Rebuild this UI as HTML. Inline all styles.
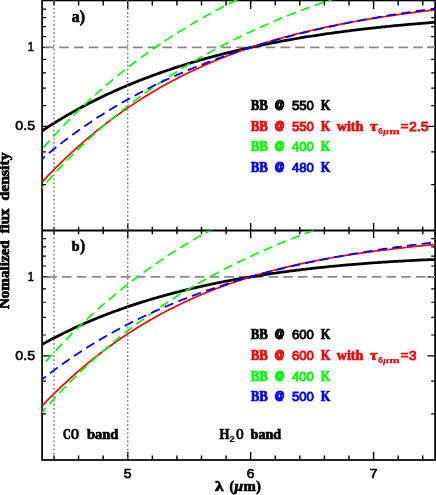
<!DOCTYPE html>
<html><head><meta charset="utf-8"><title>BB</title>
<style>html,body{margin:0;padding:0;background:#fff;overflow:hidden}svg{display:block;will-change:transform;font-family:"Liberation Serif",serif}</style></head>
<body>
<svg width="436" height="495" viewBox="0 0 436 495">
<defs><clipPath id="ca"><rect x="42.10" y="-0.05" width="393.00" height="230.55"/></clipPath><clipPath id="cb"><rect x="42.10" y="230.50" width="393.00" height="229.50"/></clipPath></defs>
<rect width="436" height="495" fill="#fff"/>
<g stroke="#000" fill="none">
<rect x="42.1" y="0.44999999999999996" width="393.0" height="459.55" stroke-width="1.7"/>
<line x1="42.1" x2="435.1" y1="230.5" y2="230.5" stroke-width="1.8"/>
<path d="M53.99,0.44999999999999996 v5.0 M53.99,226.85 v7.3 M53.99,460.0 v-4.4 M78.58,0.44999999999999996 v5.0 M78.58,226.85 v7.3 M78.58,460.0 v-4.4 M103.16,0.44999999999999996 v5.0 M103.16,226.85 v7.3 M103.16,460.0 v-4.4 M127.74,0.44999999999999996 v8.5 M127.74,223.00 v15.0 M127.74,460.0 v-7.9 M152.33,0.44999999999999996 v5.0 M152.33,226.85 v7.3 M152.33,460.0 v-4.4 M176.91,0.44999999999999996 v5.0 M176.91,226.85 v7.3 M176.91,460.0 v-4.4 M201.50,0.44999999999999996 v5.0 M201.50,226.85 v7.3 M201.50,460.0 v-4.4 M226.08,0.44999999999999996 v5.0 M226.08,226.85 v7.3 M226.08,460.0 v-4.4 M250.66,0.44999999999999996 v8.5 M250.66,223.00 v15.0 M250.66,460.0 v-7.9 M275.25,0.44999999999999996 v5.0 M275.25,226.85 v7.3 M275.25,460.0 v-4.4 M299.83,0.44999999999999996 v5.0 M299.83,226.85 v7.3 M299.83,460.0 v-4.4 M324.42,0.44999999999999996 v5.0 M324.42,226.85 v7.3 M324.42,460.0 v-4.4 M349.00,0.44999999999999996 v5.0 M349.00,226.85 v7.3 M349.00,460.0 v-4.4 M373.58,0.44999999999999996 v8.5 M373.58,223.00 v15.0 M373.58,460.0 v-7.9 M398.17,0.44999999999999996 v5.0 M398.17,226.85 v7.3 M398.17,460.0 v-4.4 M422.75,0.44999999999999996 v5.0 M422.75,226.85 v7.3 M422.75,460.0 v-4.4" stroke-width="1.4"/>
<path d="M42.1,184.55 h3.9 M435.1,184.55 h-3.9 M42.1,151.79 h3.9 M435.1,151.79 h-3.9 M42.1,126.38 h7.6 M435.1,126.38 h-7.6 M42.1,105.62 h3.9 M435.1,105.62 h-3.9 M42.1,88.07 h3.9 M435.1,88.07 h-3.9 M42.1,72.86 h3.9 M435.1,72.86 h-3.9 M42.1,59.45 h3.9 M435.1,59.45 h-3.9 M42.1,47.45 h7.6 M435.1,47.45 h-7.6 M42.1,36.60 h3.9 M435.1,36.60 h-3.9 M42.1,26.69 h3.9 M435.1,26.69 h-3.9 M42.1,17.57 h3.9 M435.1,17.57 h-3.9 M42.1,9.14 h3.9 M435.1,9.14 h-3.9 M42.1,413.95 h3.9 M435.1,413.95 h-3.9 M42.1,381.19 h3.9 M435.1,381.19 h-3.9 M42.1,355.78 h7.6 M435.1,355.78 h-7.6 M42.1,335.02 h3.9 M435.1,335.02 h-3.9 M42.1,317.47 h3.9 M435.1,317.47 h-3.9 M42.1,302.26 h3.9 M435.1,302.26 h-3.9 M42.1,288.85 h3.9 M435.1,288.85 h-3.9 M42.1,276.85 h7.6 M435.1,276.85 h-7.6 M42.1,266.00 h3.9 M435.1,266.00 h-3.9 M42.1,256.09 h3.9 M435.1,256.09 h-3.9 M42.1,246.97 h3.9 M435.1,246.97 h-3.9 M42.1,238.54 h3.9 M435.1,238.54 h-3.9" stroke-width="1.2"/>
</g>
<line x1="44.45" x2="435.1" y1="47.45" y2="47.45" stroke="#8a8a8a" stroke-width="1.8" stroke-dasharray="9.65 5.1"/>
<line x1="47.25" x2="435.1" y1="276.85" y2="276.85" stroke="#8a8a8a" stroke-width="1.8" stroke-dasharray="9.65 5.1"/>
<g clip-path="url(#ca)" fill="none">
<path d="M41.70,131.13 L43.23,130.11 L44.76,129.11 L46.28,128.11 L47.81,127.12 L49.34,126.14 L50.87,125.16 L52.40,124.20 L53.93,123.24 L55.45,122.29 L56.98,121.35 L58.51,120.42 L60.04,119.49 L61.57,118.57 L63.09,117.66 L64.62,116.76 L66.15,115.87 L67.68,114.98 L69.21,114.10 L70.74,113.23 L72.26,112.36 L73.79,111.50 L75.32,110.65 L76.85,109.81 L78.38,108.97 L79.90,108.14 L81.43,107.32 L82.96,106.50 L84.49,105.69 L86.02,104.89 L87.55,104.09 L89.07,103.30 L90.60,102.51 L92.13,101.74 L93.66,100.97 L95.19,100.20 L96.72,99.44 L98.24,98.69 L99.77,97.95 L101.30,97.21 L102.83,96.47 L104.36,95.74 L105.88,95.02 L107.41,94.31 L108.94,93.60 L110.47,92.89 L112.00,92.19 L113.53,91.50 L115.05,90.81 L116.58,90.13 L118.11,89.45 L119.64,88.78 L121.17,88.12 L122.69,87.46 L124.22,86.80 L125.75,86.15 L127.28,85.51 L128.81,84.87 L130.34,84.24 L131.86,83.61 L133.39,82.99 L134.92,82.37 L136.45,81.75 L137.98,81.15 L139.50,80.54 L141.03,79.94 L142.56,79.35 L144.09,78.76 L145.62,78.17 L147.15,77.60 L148.67,77.02 L150.20,76.45 L151.73,75.88 L153.26,75.32 L154.79,74.77 L156.31,74.21 L157.84,73.66 L159.37,73.12 L160.90,72.58 L162.43,72.05 L163.96,71.52 L165.48,70.99 L167.01,70.47 L168.54,69.95 L170.07,69.44 L171.60,68.93 L173.12,68.42 L174.65,67.92 L176.18,67.42 L177.71,66.93 L179.24,66.44 L180.77,65.95 L182.29,65.47 L183.82,64.99 L185.35,64.52 L186.88,64.05 L188.41,63.58 L189.93,63.12 L191.46,62.66 L192.99,62.21 L194.52,61.75 L196.05,61.31 L197.58,60.86 L199.10,60.42 L200.63,59.98 L202.16,59.55 L203.69,59.12 L205.22,58.69 L206.75,58.27 L208.27,57.85 L209.80,57.43 L211.33,57.02 L212.86,56.61 L214.39,56.20 L215.91,55.80 L217.44,55.40 L218.97,55.00 L220.50,54.61 L222.03,54.22 L223.56,53.83 L225.08,53.44 L226.61,53.06 L228.14,52.68 L229.67,52.31 L231.20,51.94 L232.72,51.57 L234.25,51.20 L235.78,50.84 L237.31,50.48 L238.84,50.12 L240.37,49.77 L241.89,49.41 L243.42,49.06 L244.95,48.72 L246.48,48.38 L248.01,48.04 L249.53,47.70 L251.06,47.36 L252.59,47.03 L254.12,46.70 L255.65,46.37 L257.18,46.05 L258.70,45.73 L260.23,45.41 L261.76,45.09 L263.29,44.78 L264.82,44.47 L266.34,44.16 L267.87,43.86 L269.40,43.55 L270.93,43.25 L272.46,42.95 L273.99,42.66 L275.51,42.36 L277.04,42.07 L278.57,41.78 L280.10,41.50 L281.63,41.21 L283.15,40.93 L284.68,40.65 L286.21,40.37 L287.74,40.10 L289.27,39.83 L290.80,39.56 L292.32,39.29 L293.85,39.02 L295.38,38.76 L296.91,38.50 L298.44,38.24 L299.96,37.98 L301.49,37.73 L303.02,37.48 L304.55,37.23 L306.08,36.98 L307.61,36.73 L309.13,36.49 L310.66,36.24 L312.19,36.00 L313.72,35.77 L315.25,35.53 L316.78,35.30 L318.30,35.06 L319.83,34.83 L321.36,34.61 L322.89,34.38 L324.42,34.16 L325.94,33.93 L327.47,33.71 L329.00,33.50 L330.53,33.28 L332.06,33.06 L333.59,32.85 L335.11,32.64 L336.64,32.43 L338.17,32.22 L339.70,32.02 L341.23,31.82 L342.75,31.61 L344.28,31.41 L345.81,31.21 L347.34,31.02 L348.87,30.82 L350.40,30.63 L351.92,30.44 L353.45,30.25 L354.98,30.06 L356.51,29.88 L358.04,29.69 L359.56,29.51 L361.09,29.33 L362.62,29.15 L364.15,28.97 L365.68,28.79 L367.21,28.62 L368.73,28.44 L370.26,28.27 L371.79,28.10 L373.32,27.93 L374.85,27.77 L376.37,27.60 L377.90,27.44 L379.43,27.27 L380.96,27.11 L382.49,26.95 L384.02,26.80 L385.54,26.64 L387.07,26.48 L388.60,26.33 L390.13,26.18 L391.66,26.03 L393.18,25.88 L394.71,25.73 L396.24,25.59 L397.77,25.44 L399.30,25.30 L400.83,25.15 L402.35,25.01 L403.88,24.87 L405.41,24.74 L406.94,24.60 L408.47,24.46 L409.99,24.33 L411.52,24.20 L413.05,24.07 L414.58,23.94 L416.11,23.81 L417.64,23.68 L419.16,23.55 L420.69,23.43 L422.22,23.30 L423.75,23.18 L425.28,23.06 L426.81,22.94 L428.33,22.82 L429.86,22.70 L431.39,22.59 L432.92,22.47 L434.45,22.36 L435.97,22.25 L437.50,22.13" stroke="#000" stroke-width="2.75"/>
<path d="M41.70,182.46 L43.23,180.81 L44.76,179.19 L46.28,177.57 L47.81,175.96 L49.34,174.37 L50.87,172.80 L52.40,171.23 L53.93,169.68 L55.45,168.14 L56.98,166.61 L58.51,165.09 L60.04,163.59 L61.57,162.10 L63.09,160.62 L64.62,159.15 L66.15,157.69 L67.68,156.25 L69.21,154.82 L70.74,153.40 L72.26,151.99 L73.79,150.59 L75.32,149.20 L76.85,147.83 L78.38,146.46 L79.90,145.11 L81.43,143.77 L82.96,142.43 L84.49,141.11 L86.02,139.80 L87.55,138.50 L89.07,137.21 L90.60,135.93 L92.13,134.67 L93.66,133.41 L95.19,132.16 L96.72,130.92 L98.24,129.70 L99.77,128.48 L101.30,127.27 L102.83,126.07 L104.36,124.89 L105.88,123.71 L107.41,122.54 L108.94,121.38 L110.47,120.23 L112.00,119.09 L113.53,117.96 L115.05,116.84 L116.58,115.73 L118.11,114.63 L119.64,113.53 L121.17,112.45 L122.69,111.37 L124.22,110.31 L125.75,109.25 L127.28,108.20 L128.81,107.16 L130.34,106.13 L131.86,105.11 L133.39,104.09 L134.92,103.09 L136.45,102.09 L137.98,101.10 L139.50,100.12 L141.03,99.15 L142.56,98.18 L144.09,97.23 L145.62,96.28 L147.15,95.34 L148.67,94.41 L150.20,93.48 L151.73,92.57 L153.26,91.66 L154.79,90.76 L156.31,89.86 L157.84,88.98 L159.37,88.10 L160.90,87.23 L162.43,86.36 L163.96,85.51 L165.48,84.66 L167.01,83.82 L168.54,82.98 L170.07,82.16 L171.60,81.34 L173.12,80.53 L174.65,79.72 L176.18,78.92 L177.71,78.13 L179.24,77.34 L180.77,76.57 L182.29,75.79 L183.82,75.03 L185.35,74.27 L186.88,73.52 L188.41,72.78 L189.93,72.04 L191.46,71.30 L192.99,70.58 L194.52,69.86 L196.05,69.15 L197.58,68.44 L199.10,67.74 L200.63,67.05 L202.16,66.36 L203.69,65.68 L205.22,65.00 L206.75,64.33 L208.27,63.67 L209.80,63.01 L211.33,62.36 L212.86,61.71 L214.39,61.07 L215.91,60.44 L217.44,59.81 L218.97,59.18 L220.50,58.56 L222.03,57.95 L223.56,57.35 L225.08,56.74 L226.61,56.15 L228.14,55.56 L229.67,54.97 L231.20,54.39 L232.72,53.82 L234.25,53.25 L235.78,52.68 L237.31,52.12 L238.84,51.57 L240.37,51.02 L241.89,50.48 L243.42,49.94 L244.95,49.40 L246.48,48.87 L248.01,48.35 L249.53,47.83 L251.06,47.32 L252.59,46.81 L254.12,46.30 L255.65,45.80 L257.18,45.30 L258.70,44.81 L260.23,44.33 L261.76,43.84 L263.29,43.36 L264.82,42.89 L266.34,42.42 L267.87,41.96 L269.40,41.50 L270.93,41.04 L272.46,40.59 L273.99,40.14 L275.51,39.70 L277.04,39.26 L278.57,38.82 L280.10,38.39 L281.63,37.96 L283.15,37.54 L284.68,37.12 L286.21,36.70 L287.74,36.29 L289.27,35.89 L290.80,35.48 L292.32,35.08 L293.85,34.68 L295.38,34.29 L296.91,33.90 L298.44,33.52 L299.96,33.14 L301.49,32.76 L303.02,32.38 L304.55,32.01 L306.08,31.64 L307.61,31.28 L309.13,30.92 L310.66,30.56 L312.19,30.21 L313.72,29.85 L315.25,29.51 L316.78,29.16 L318.30,28.82 L319.83,28.48 L321.36,28.15 L322.89,27.82 L324.42,27.49 L325.94,27.16 L327.47,26.84 L329.00,26.52 L330.53,26.20 L332.06,25.89 L333.59,25.58 L335.11,25.27 L336.64,24.96 L338.17,24.66 L339.70,24.36 L341.23,24.06 L342.75,23.77 L344.28,23.48 L345.81,23.19 L347.34,22.90 L348.87,22.62 L350.40,22.34 L351.92,22.06 L353.45,21.78 L354.98,21.51 L356.51,21.23 L358.04,20.96 L359.56,20.70 L361.09,20.43 L362.62,20.17 L364.15,19.91 L365.68,19.65 L367.21,19.40 L368.73,19.14 L370.26,18.89 L371.79,18.64 L373.32,18.40 L374.85,18.15 L376.37,17.91 L377.90,17.67 L379.43,17.43 L380.96,17.19 L382.49,16.96 L384.02,16.72 L385.54,16.49 L387.07,16.26 L388.60,16.03 L390.13,15.81 L391.66,15.58 L393.18,15.36 L394.71,15.14 L396.24,14.92 L397.77,14.70 L399.30,14.49 L400.83,14.27 L402.35,14.06 L403.88,13.85 L405.41,13.64 L406.94,13.43 L408.47,13.22 L409.99,13.02 L411.52,12.81 L413.05,12.61 L414.58,12.41 L416.11,12.21 L417.64,12.01 L419.16,11.81 L420.69,11.62 L422.22,11.42 L423.75,11.23 L425.28,11.03 L426.81,10.84 L428.33,10.65 L429.86,10.46 L431.39,10.27 L432.92,10.08 L434.45,9.90 L435.97,9.71 L437.50,9.53" stroke="#f00" stroke-width="1.7"/>
<path d="M41.70,149.59 L43.23,147.83 L44.76,146.08 L46.28,144.34 L47.81,142.62 L49.34,140.91 L50.87,139.22 L52.40,137.53 L53.93,135.86 L55.45,134.20 L56.98,132.55 L58.51,130.91 L60.04,129.29 L61.57,127.68 L63.09,126.07 L64.62,124.48 L66.15,122.91 L67.68,121.34 L69.21,119.78 L70.74,118.24 L72.26,116.70 L73.79,115.18 L75.32,113.67 L76.85,112.17 L78.38,110.68 L79.90,109.20 L81.43,107.73 L82.96,106.27 L84.49,104.82 L86.02,103.38 L87.55,101.95 L89.07,100.53 L90.60,99.12 L92.13,97.72 L93.66,96.33 L95.19,94.95 L96.72,93.58 L98.24,92.22 L99.77,90.87 L101.30,89.53 L102.83,88.19 L104.36,86.87 L105.88,85.55 L107.41,84.25 L108.94,82.95 L110.47,81.66 L112.00,80.38 L113.53,79.11 L115.05,77.85 L116.58,76.60 L118.11,75.35 L119.64,74.12 L121.17,72.89 L122.69,71.67 L124.22,70.46 L125.75,69.25 L127.28,68.06 L128.81,66.87 L130.34,65.69 L131.86,64.52 L133.39,63.36 L134.92,62.20 L136.45,61.05 L137.98,59.91 L139.50,58.78 L141.03,57.65 L142.56,56.53 L144.09,55.42 L145.62,54.32 L147.15,53.22 L148.67,52.13 L150.20,51.05 L151.73,49.98 L153.26,48.91 L154.79,47.85 L156.31,46.80 L157.84,45.75 L159.37,44.71 L160.90,43.68 L162.43,42.65 L163.96,41.63 L165.48,40.62 L167.01,39.61 L168.54,38.61 L170.07,37.62 L171.60,36.63 L173.12,35.65 L174.65,34.67 L176.18,33.71 L177.71,32.74 L179.24,31.79 L180.77,30.84 L182.29,29.90 L183.82,28.96 L185.35,28.03 L186.88,27.10 L188.41,26.18 L189.93,25.27 L191.46,24.36 L192.99,23.46 L194.52,22.56 L196.05,21.67 L197.58,20.79 L199.10,19.91 L200.63,19.03 L202.16,18.16 L203.69,17.30 L205.22,16.44 L206.75,15.59 L208.27,14.74 L209.80,13.90 L211.33,13.07 L212.86,12.24 L214.39,11.41 L215.91,10.59 L217.44,9.78 L218.97,8.96 L220.50,8.16 L222.03,7.36 L223.56,6.56 L225.08,5.77 L226.61,4.99 L228.14,4.21 L229.67,3.43 L231.20,2.66 L232.72,1.90 L234.25,1.13 L235.78,0.38 L237.31,-0.37 L238.84,-1.12 L240.37,-1.86 L241.89,-2.60 L243.42,-3.33 L244.95,-4.06 L246.48,-4.79 L248.01,-5.51 L249.53,-6.22 L251.06,-6.94 L252.59,-7.64 L254.12,-8.34 L255.65,-9.04 L257.18,-9.74 L258.70,-10.43 L260.23,-11.11 L261.76,-11.79 L263.29,-12.47 L264.82,-13.14 L266.34,-13.81 L267.87,-14.48 L269.40,-15.14 L270.93,-15.80 L272.46,-16.45 L273.99,-17.10 L275.51,-17.74 L277.04,-18.38 L278.57,-19.02 L280.10,-19.65 L281.63,-20.28 L283.15,-20.91 L284.68,-21.53 L286.21,-22.15 L287.74,-22.76 L289.27,-23.37 L290.80,-23.98 L292.32,-24.59 L293.85,-25.18 L295.38,-25.78 L296.91,-26.37 L298.44,-26.96 L299.96,-27.55 L301.49,-28.13 L303.02,-28.71 L304.55,-29.28 L306.08,-29.86 L307.61,-30.42 L309.13,-30.99 L310.66,-31.55 L312.19,-32.11 L313.72,-32.66 L315.25,-33.22 L316.78,-33.76 L318.30,-34.31 L319.83,-34.85 L321.36,-35.39 L322.89,-35.92 L324.42,-36.46 L325.94,-36.99 L327.47,-37.51 L329.00,-38.03 L330.53,-38.55 L332.06,-39.07 L333.59,-39.58 L335.11,-40.09 L336.64,-40.60 L338.17,-41.11 L339.70,-41.61 L341.23,-42.11 L342.75,-42.60 L344.28,-43.09 L345.81,-43.58 L347.34,-44.07 L348.87,-44.55 L350.40,-45.04 L351.92,-45.51 L353.45,-45.99 L354.98,-46.46 L356.51,-46.93 L358.04,-47.40 L359.56,-47.86 L361.09,-48.32 L362.62,-48.78 L364.15,-49.24 L365.68,-49.69 L367.21,-50.14 L368.73,-50.59 L370.26,-51.04 L371.79,-51.48 L373.32,-51.92 L374.85,-52.36 L376.37,-52.79 L377.90,-53.23 L379.43,-53.66 L380.96,-54.08 L382.49,-54.51 L384.02,-54.93 L385.54,-55.35 L387.07,-55.77 L388.60,-56.19 L390.13,-56.60 L391.66,-57.01 L393.18,-57.42 L394.71,-57.82 L396.24,-58.23 L397.77,-58.63 L399.30,-59.03 L400.83,-59.42 L402.35,-59.82 L403.88,-60.21 L405.41,-60.60 L406.94,-60.98 L408.47,-61.37 L409.99,-61.75 L411.52,-62.13 L413.05,-62.51 L414.58,-62.88 L416.11,-63.26 L417.64,-63.63 L419.16,-64.00 L420.69,-64.37 L422.22,-64.73 L423.75,-65.09 L425.28,-65.46 L426.81,-65.81 L428.33,-66.17 L429.86,-66.53 L431.39,-66.88 L432.92,-67.23 L434.45,-67.58 L435.97,-67.92 L437.50,-68.27" stroke="#0f0" stroke-width="1.7" stroke-dasharray="9.45 5.3" stroke-dashoffset="12.19"/>
<path d="M41.70,187.99 L43.23,186.23 L44.76,184.48 L46.28,182.74 L47.81,181.02 L49.34,179.31 L50.87,177.62 L52.40,175.93 L53.93,174.26 L55.45,172.60 L56.98,170.95 L58.51,169.31 L60.04,167.69 L61.57,166.08 L63.09,164.47 L64.62,162.88 L66.15,161.31 L67.68,159.74 L69.21,158.18 L70.74,156.64 L72.26,155.10 L73.79,153.58 L75.32,152.07 L76.85,150.57 L78.38,149.08 L79.90,147.60 L81.43,146.13 L82.96,144.67 L84.49,143.22 L86.02,141.78 L87.55,140.35 L89.07,138.93 L90.60,137.52 L92.13,136.12 L93.66,134.73 L95.19,133.35 L96.72,131.98 L98.24,130.62 L99.77,129.27 L101.30,127.93 L102.83,126.59 L104.36,125.27 L105.88,123.95 L107.41,122.65 L108.94,121.35 L110.47,120.06 L112.00,118.78 L113.53,117.51 L115.05,116.25 L116.58,115.00 L118.11,113.75 L119.64,112.52 L121.17,111.29 L122.69,110.07 L124.22,108.86 L125.75,107.65 L127.28,106.46 L128.81,105.27 L130.34,104.09 L131.86,102.92 L133.39,101.76 L134.92,100.60 L136.45,99.45 L137.98,98.31 L139.50,97.18 L141.03,96.05 L142.56,94.93 L144.09,93.82 L145.62,92.72 L147.15,91.62 L148.67,90.53 L150.20,89.45 L151.73,88.38 L153.26,87.31 L154.79,86.25 L156.31,85.20 L157.84,84.15 L159.37,83.11 L160.90,82.08 L162.43,81.05 L163.96,80.03 L165.48,79.02 L167.01,78.01 L168.54,77.01 L170.07,76.02 L171.60,75.03 L173.12,74.05 L174.65,73.07 L176.18,72.11 L177.71,71.14 L179.24,70.19 L180.77,69.24 L182.29,68.30 L183.82,67.36 L185.35,66.43 L186.88,65.50 L188.41,64.58 L189.93,63.67 L191.46,62.76 L192.99,61.86 L194.52,60.96 L196.05,60.07 L197.58,59.19 L199.10,58.31 L200.63,57.43 L202.16,56.56 L203.69,55.70 L205.22,54.84 L206.75,53.99 L208.27,53.14 L209.80,52.30 L211.33,51.47 L212.86,50.64 L214.39,49.81 L215.91,48.99 L217.44,48.18 L218.97,47.36 L220.50,46.56 L222.03,45.76 L223.56,44.96 L225.08,44.17 L226.61,43.39 L228.14,42.61 L229.67,41.83 L231.20,41.06 L232.72,40.30 L234.25,39.53 L235.78,38.78 L237.31,38.03 L238.84,37.28 L240.37,36.54 L241.89,35.80 L243.42,35.07 L244.95,34.34 L246.48,33.61 L248.01,32.89 L249.53,32.18 L251.06,31.46 L252.59,30.76 L254.12,30.06 L255.65,29.36 L257.18,28.66 L258.70,27.97 L260.23,27.29 L261.76,26.61 L263.29,25.93 L264.82,25.26 L266.34,24.59 L267.87,23.92 L269.40,23.26 L270.93,22.60 L272.46,21.95 L273.99,21.30 L275.51,20.66 L277.04,20.02 L278.57,19.38 L280.10,18.75 L281.63,18.12 L283.15,17.49 L284.68,16.87 L286.21,16.25 L287.74,15.64 L289.27,15.03 L290.80,14.42 L292.32,13.81 L293.85,13.22 L295.38,12.62 L296.91,12.03 L298.44,11.44 L299.96,10.85 L301.49,10.27 L303.02,9.69 L304.55,9.12 L306.08,8.54 L307.61,7.98 L309.13,7.41 L310.66,6.85 L312.19,6.29 L313.72,5.74 L315.25,5.18 L316.78,4.64 L318.30,4.09 L319.83,3.55 L321.36,3.01 L322.89,2.48 L324.42,1.94 L325.94,1.41 L327.47,0.89 L329.00,0.37 L330.53,-0.15 L332.06,-0.67 L333.59,-1.18 L335.11,-1.69 L336.64,-2.20 L338.17,-2.71 L339.70,-3.21 L341.23,-3.71 L342.75,-4.20 L344.28,-4.69 L345.81,-5.18 L347.34,-5.67 L348.87,-6.15 L350.40,-6.64 L351.92,-7.11 L353.45,-7.59 L354.98,-8.06 L356.51,-8.53 L358.04,-9.00 L359.56,-9.46 L361.09,-9.92 L362.62,-10.38 L364.15,-10.84 L365.68,-11.29 L367.21,-11.74 L368.73,-12.19 L370.26,-12.64 L371.79,-13.08 L373.32,-13.52 L374.85,-13.96 L376.37,-14.39 L377.90,-14.83 L379.43,-15.26 L380.96,-15.68 L382.49,-16.11 L384.02,-16.53 L385.54,-16.95 L387.07,-17.37 L388.60,-17.79 L390.13,-18.20 L391.66,-18.61 L393.18,-19.02 L394.71,-19.42 L396.24,-19.83 L397.77,-20.23 L399.30,-20.63 L400.83,-21.02 L402.35,-21.42 L403.88,-21.81 L405.41,-22.20 L406.94,-22.58 L408.47,-22.97 L409.99,-23.35 L411.52,-23.73 L413.05,-24.11 L414.58,-24.48 L416.11,-24.86 L417.64,-25.23 L419.16,-25.60 L420.69,-25.97 L422.22,-26.33 L423.75,-26.69 L425.28,-27.06 L426.81,-27.41 L428.33,-27.77 L429.86,-28.13 L431.39,-28.48 L432.92,-28.83 L434.45,-29.18 L435.97,-29.52 L437.50,-29.87" stroke="#0f0" stroke-width="1.7" stroke-dasharray="9.45 5.3" stroke-dashoffset="7.08"/>
<path d="M41.70,159.21 L43.23,157.91 L44.76,156.62 L46.28,155.33 L47.81,154.06 L49.34,152.79 L50.87,151.54 L52.40,150.30 L53.93,149.06 L55.45,147.84 L56.98,146.62 L58.51,145.42 L60.04,144.22 L61.57,143.03 L63.09,141.86 L64.62,140.69 L66.15,139.53 L67.68,138.38 L69.21,137.23 L70.74,136.10 L72.26,134.98 L73.79,133.86 L75.32,132.75 L76.85,131.65 L78.38,130.56 L79.90,129.48 L81.43,128.41 L82.96,127.34 L84.49,126.29 L86.02,125.24 L87.55,124.19 L89.07,123.16 L90.60,122.13 L92.13,121.12 L93.66,120.11 L95.19,119.10 L96.72,118.11 L98.24,117.12 L99.77,116.14 L101.30,115.17 L102.83,114.20 L104.36,113.24 L105.88,112.29 L107.41,111.35 L108.94,110.41 L110.47,109.48 L112.00,108.56 L113.53,107.64 L115.05,106.73 L116.58,105.83 L118.11,104.93 L119.64,104.04 L121.17,103.16 L122.69,102.28 L124.22,101.41 L125.75,100.55 L127.28,99.69 L128.81,98.84 L130.34,97.99 L131.86,97.16 L133.39,96.32 L134.92,95.50 L136.45,94.68 L137.98,93.86 L139.50,93.05 L141.03,92.25 L142.56,91.46 L144.09,90.66 L145.62,89.88 L147.15,89.10 L148.67,88.33 L150.20,87.56 L151.73,86.80 L153.26,86.04 L154.79,85.29 L156.31,84.54 L157.84,83.80 L159.37,83.07 L160.90,82.34 L162.43,81.61 L163.96,80.89 L165.48,80.18 L167.01,79.47 L168.54,78.76 L170.07,78.07 L171.60,77.37 L173.12,76.68 L174.65,76.00 L176.18,75.32 L177.71,74.64 L179.24,73.98 L180.77,73.31 L182.29,72.65 L183.82,72.00 L185.35,71.34 L186.88,70.70 L188.41,70.06 L189.93,69.42 L191.46,68.79 L192.99,68.16 L194.52,67.54 L196.05,66.92 L197.58,66.30 L199.10,65.69 L200.63,65.09 L202.16,64.49 L203.69,63.89 L205.22,63.30 L206.75,62.71 L208.27,62.12 L209.80,61.54 L211.33,60.97 L212.86,60.39 L214.39,59.83 L215.91,59.26 L217.44,58.70 L218.97,58.14 L220.50,57.59 L222.03,57.04 L223.56,56.50 L225.08,55.96 L226.61,55.42 L228.14,54.89 L229.67,54.36 L231.20,53.83 L232.72,53.31 L234.25,52.79 L235.78,52.28 L237.31,51.77 L238.84,51.26 L240.37,50.76 L241.89,50.25 L243.42,49.76 L244.95,49.26 L246.48,48.77 L248.01,48.29 L249.53,47.80 L251.06,47.33 L252.59,46.85 L254.12,46.38 L255.65,45.91 L257.18,45.44 L258.70,44.98 L260.23,44.52 L261.76,44.06 L263.29,43.61 L264.82,43.16 L266.34,42.71 L267.87,42.26 L269.40,41.82 L270.93,41.39 L272.46,40.95 L273.99,40.52 L275.51,40.09 L277.04,39.66 L278.57,39.24 L280.10,38.82 L281.63,38.41 L283.15,37.99 L284.68,37.58 L286.21,37.17 L287.74,36.77 L289.27,36.36 L290.80,35.96 L292.32,35.57 L293.85,35.17 L295.38,34.78 L296.91,34.39 L298.44,34.01 L299.96,33.62 L301.49,33.24 L303.02,32.87 L304.55,32.49 L306.08,32.12 L307.61,31.75 L309.13,31.38 L310.66,31.02 L312.19,30.65 L313.72,30.29 L315.25,29.94 L316.78,29.58 L318.30,29.23 L319.83,28.88 L321.36,28.53 L322.89,28.19 L324.42,27.85 L325.94,27.51 L327.47,27.17 L329.00,26.83 L330.53,26.50 L332.06,26.17 L333.59,25.84 L335.11,25.52 L336.64,25.19 L338.17,24.87 L339.70,24.55 L341.23,24.24 L342.75,23.92 L344.28,23.61 L345.81,23.30 L347.34,22.99 L348.87,22.69 L350.40,22.38 L351.92,22.08 L353.45,21.78 L354.98,21.48 L356.51,21.19 L358.04,20.90 L359.56,20.60 L361.09,20.32 L362.62,20.03 L364.15,19.74 L365.68,19.46 L367.21,19.18 L368.73,18.90 L370.26,18.63 L371.79,18.35 L373.32,18.08 L374.85,17.81 L376.37,17.54 L377.90,17.27 L379.43,17.01 L380.96,16.74 L382.49,16.48 L384.02,16.22 L385.54,15.97 L387.07,15.71 L388.60,15.46 L390.13,15.20 L391.66,14.95 L393.18,14.71 L394.71,14.46 L396.24,14.21 L397.77,13.97 L399.30,13.73 L400.83,13.49 L402.35,13.25 L403.88,13.02 L405.41,12.78 L406.94,12.55 L408.47,12.32 L409.99,12.09 L411.52,11.86 L413.05,11.64 L414.58,11.41 L416.11,11.19 L417.64,10.97 L419.16,10.75 L420.69,10.53 L422.22,10.32 L423.75,10.10 L425.28,9.89 L426.81,9.68 L428.33,9.47 L429.86,9.26 L431.39,9.05 L432.92,8.85 L434.45,8.64 L435.97,8.44 L437.50,8.24" stroke="#00f" stroke-width="1.8" stroke-dasharray="9.45 5.3" stroke-dashoffset="5.21"/>
</g>
<g clip-path="url(#cb)" fill="none">
<path d="M41.70,344.65 L43.23,343.80 L44.76,342.95 L46.28,342.12 L47.81,341.29 L49.34,340.47 L50.87,339.65 L52.40,338.84 L53.93,338.04 L55.45,337.25 L56.98,336.47 L58.51,335.69 L60.04,334.92 L61.57,334.15 L63.09,333.39 L64.62,332.64 L66.15,331.90 L67.68,331.16 L69.21,330.43 L70.74,329.70 L72.26,328.98 L73.79,328.27 L75.32,327.56 L76.85,326.87 L78.38,326.17 L79.90,325.48 L81.43,324.80 L82.96,324.13 L84.49,323.46 L86.02,322.79 L87.55,322.14 L89.07,321.48 L90.60,320.84 L92.13,320.20 L93.66,319.56 L95.19,318.93 L96.72,318.31 L98.24,317.69 L99.77,317.08 L101.30,316.47 L102.83,315.87 L104.36,315.27 L105.88,314.68 L107.41,314.09 L108.94,313.51 L110.47,312.93 L112.00,312.36 L113.53,311.79 L115.05,311.23 L116.58,310.68 L118.11,310.12 L119.64,309.58 L121.17,309.03 L122.69,308.50 L124.22,307.96 L125.75,307.44 L127.28,306.91 L128.81,306.39 L130.34,305.88 L131.86,305.37 L133.39,304.86 L134.92,304.36 L136.45,303.87 L137.98,303.37 L139.50,302.89 L141.03,302.40 L142.56,301.92 L144.09,301.45 L145.62,300.98 L147.15,300.51 L148.67,300.05 L150.20,299.59 L151.73,299.13 L153.26,298.68 L154.79,298.23 L156.31,297.79 L157.84,297.35 L159.37,296.92 L160.90,296.49 L162.43,296.06 L163.96,295.63 L165.48,295.21 L167.01,294.80 L168.54,294.38 L170.07,293.97 L171.60,293.57 L173.12,293.17 L174.65,292.77 L176.18,292.37 L177.71,291.98 L179.24,291.59 L180.77,291.21 L182.29,290.83 L183.82,290.45 L185.35,290.08 L186.88,289.70 L188.41,289.34 L189.93,288.97 L191.46,288.61 L192.99,288.25 L194.52,287.90 L196.05,287.55 L197.58,287.20 L199.10,286.85 L200.63,286.51 L202.16,286.17 L203.69,285.83 L205.22,285.50 L206.75,285.17 L208.27,284.84 L209.80,284.52 L211.33,284.20 L212.86,283.88 L214.39,283.56 L215.91,283.25 L217.44,282.94 L218.97,282.63 L220.50,282.33 L222.03,282.02 L223.56,281.72 L225.08,281.43 L226.61,281.13 L228.14,280.84 L229.67,280.55 L231.20,280.27 L232.72,279.99 L234.25,279.71 L235.78,279.43 L237.31,279.15 L238.84,278.88 L240.37,278.61 L241.89,278.34 L243.42,278.07 L244.95,277.81 L246.48,277.55 L248.01,277.29 L249.53,277.04 L251.06,276.78 L252.59,276.53 L254.12,276.28 L255.65,276.04 L257.18,275.79 L258.70,275.55 L260.23,275.31 L261.76,275.08 L263.29,274.84 L264.82,274.61 L266.34,274.38 L267.87,274.15 L269.40,273.92 L270.93,273.70 L272.46,273.48 L273.99,273.26 L275.51,273.04 L277.04,272.82 L278.57,272.61 L280.10,272.40 L281.63,272.19 L283.15,271.98 L284.68,271.78 L286.21,271.57 L287.74,271.37 L289.27,271.17 L290.80,270.98 L292.32,270.78 L293.85,270.59 L295.38,270.39 L296.91,270.20 L298.44,270.02 L299.96,269.83 L301.49,269.65 L303.02,269.46 L304.55,269.28 L306.08,269.11 L307.61,268.93 L309.13,268.75 L310.66,268.58 L312.19,268.41 L313.72,268.24 L315.25,268.07 L316.78,267.90 L318.30,267.74 L319.83,267.58 L321.36,267.42 L322.89,267.26 L324.42,267.10 L325.94,266.94 L327.47,266.79 L329.00,266.64 L330.53,266.48 L332.06,266.33 L333.59,266.19 L335.11,266.04 L336.64,265.89 L338.17,265.75 L339.70,265.61 L341.23,265.47 L342.75,265.33 L344.28,265.19 L345.81,265.06 L347.34,264.92 L348.87,264.79 L350.40,264.66 L351.92,264.53 L353.45,264.40 L354.98,264.27 L356.51,264.15 L358.04,264.03 L359.56,263.90 L361.09,263.78 L362.62,263.66 L364.15,263.54 L365.68,263.43 L367.21,263.31 L368.73,263.20 L370.26,263.08 L371.79,262.97 L373.32,262.86 L374.85,262.75 L376.37,262.64 L377.90,262.54 L379.43,262.43 L380.96,262.33 L382.49,262.23 L384.02,262.13 L385.54,262.03 L387.07,261.93 L388.60,261.83 L390.13,261.73 L391.66,261.64 L393.18,261.54 L394.71,261.45 L396.24,261.36 L397.77,261.27 L399.30,261.18 L400.83,261.09 L402.35,261.01 L403.88,260.92 L405.41,260.84 L406.94,260.75 L408.47,260.67 L409.99,260.59 L411.52,260.51 L413.05,260.43 L414.58,260.36 L416.11,260.28 L417.64,260.20 L419.16,260.13 L420.69,260.06 L422.22,259.98 L423.75,259.91 L425.28,259.84 L426.81,259.77 L428.33,259.71 L429.86,259.64 L431.39,259.57 L432.92,259.51 L434.45,259.44 L435.97,259.38 L437.50,259.32" stroke="#000" stroke-width="2.75"/>
<path d="M41.70,406.24 L43.23,404.64 L44.76,403.05 L46.28,401.47 L47.81,399.90 L49.34,398.35 L50.87,396.81 L52.40,395.28 L53.93,393.77 L55.45,392.27 L56.98,390.78 L58.51,389.30 L60.04,387.83 L61.57,386.38 L63.09,384.94 L64.62,383.51 L66.15,382.09 L67.68,380.68 L69.21,379.29 L70.74,377.91 L72.26,376.54 L73.79,375.17 L75.32,373.83 L76.85,372.49 L78.38,371.16 L79.90,369.85 L81.43,368.54 L82.96,367.25 L84.49,365.97 L86.02,364.69 L87.55,363.43 L89.07,362.18 L90.60,360.94 L92.13,359.71 L93.66,358.49 L95.19,357.28 L96.72,356.08 L98.24,354.89 L99.77,353.72 L101.30,352.55 L102.83,351.39 L104.36,350.24 L105.88,349.10 L107.41,347.97 L108.94,346.85 L110.47,345.74 L112.00,344.64 L113.53,343.55 L115.05,342.47 L116.58,341.39 L118.11,340.33 L119.64,339.28 L121.17,338.23 L122.69,337.20 L124.22,336.17 L125.75,335.15 L127.28,334.14 L128.81,333.14 L130.34,332.15 L131.86,331.17 L133.39,330.19 L134.92,329.23 L136.45,328.27 L137.98,327.32 L139.50,326.38 L141.03,325.45 L142.56,324.52 L144.09,323.61 L145.62,322.70 L147.15,321.80 L148.67,320.91 L150.20,320.03 L151.73,319.15 L153.26,318.28 L154.79,317.42 L156.31,316.57 L157.84,315.73 L159.37,314.89 L160.90,314.06 L162.43,313.24 L163.96,312.42 L165.48,311.62 L167.01,310.82 L168.54,310.03 L170.07,309.24 L171.60,308.46 L173.12,307.69 L174.65,306.93 L176.18,306.17 L177.71,305.42 L179.24,304.68 L180.77,303.94 L182.29,303.22 L183.82,302.49 L185.35,301.78 L186.88,301.07 L188.41,300.37 L189.93,299.67 L191.46,298.98 L192.99,298.30 L194.52,297.62 L196.05,296.96 L197.58,296.29 L199.10,295.64 L200.63,294.98 L202.16,294.34 L203.69,293.70 L205.22,293.07 L206.75,292.44 L208.27,291.82 L209.80,291.21 L211.33,290.60 L212.86,290.00 L214.39,289.40 L215.91,288.81 L217.44,288.23 L218.97,287.65 L220.50,287.08 L222.03,286.51 L223.56,285.95 L225.08,285.39 L226.61,284.84 L228.14,284.29 L229.67,283.75 L231.20,283.22 L232.72,282.69 L234.25,282.16 L235.78,281.64 L237.31,281.13 L238.84,280.62 L240.37,280.12 L241.89,279.62 L243.42,279.12 L244.95,278.63 L246.48,278.15 L248.01,277.67 L249.53,277.20 L251.06,276.73 L252.59,276.26 L254.12,275.80 L255.65,275.35 L257.18,274.90 L258.70,274.45 L260.23,274.01 L261.76,273.57 L263.29,273.14 L264.82,272.71 L266.34,272.29 L267.87,271.87 L269.40,271.46 L270.93,271.05 L272.46,270.64 L273.99,270.24 L275.51,269.84 L277.04,269.45 L278.57,269.06 L280.10,268.67 L281.63,268.29 L283.15,267.91 L284.68,267.54 L286.21,267.17 L287.74,266.80 L289.27,266.44 L290.80,266.08 L292.32,265.73 L293.85,265.38 L295.38,265.03 L296.91,264.69 L298.44,264.35 L299.96,264.01 L301.49,263.68 L303.02,263.35 L304.55,263.03 L306.08,262.70 L307.61,262.39 L309.13,262.07 L310.66,261.76 L312.19,261.45 L313.72,261.15 L315.25,260.84 L316.78,260.54 L318.30,260.25 L319.83,259.96 L321.36,259.67 L322.89,259.38 L324.42,259.10 L325.94,258.82 L327.47,258.54 L329.00,258.26 L330.53,257.99 L332.06,257.72 L333.59,257.46 L335.11,257.19 L336.64,256.93 L338.17,256.67 L339.70,256.42 L341.23,256.17 L342.75,255.92 L344.28,255.67 L345.81,255.43 L347.34,255.18 L348.87,254.94 L350.40,254.71 L351.92,254.47 L353.45,254.24 L354.98,254.01 L356.51,253.78 L358.04,253.55 L359.56,253.33 L361.09,253.11 L362.62,252.89 L364.15,252.67 L365.68,252.46 L367.21,252.25 L368.73,252.04 L370.26,251.83 L371.79,251.62 L373.32,251.42 L374.85,251.21 L376.37,251.01 L377.90,250.81 L379.43,250.62 L380.96,250.42 L382.49,250.23 L384.02,250.04 L385.54,249.85 L387.07,249.66 L388.60,249.47 L390.13,249.29 L391.66,249.10 L393.18,248.92 L394.71,248.74 L396.24,248.56 L397.77,248.39 L399.30,248.21 L400.83,248.04 L402.35,247.86 L403.88,247.69 L405.41,247.52 L406.94,247.35 L408.47,247.18 L409.99,247.02 L411.52,246.85 L413.05,246.69 L414.58,246.52 L416.11,246.36 L417.64,246.20 L419.16,246.04 L420.69,245.88 L422.22,245.72 L423.75,245.57 L425.28,245.41 L426.81,245.26 L428.33,245.10 L429.86,244.95 L431.39,244.79 L432.92,244.64 L434.45,244.49 L435.97,244.34 L437.50,244.19" stroke="#f00" stroke-width="1.7"/>
<path d="M41.70,366.29 L43.23,364.53 L44.76,362.78 L46.28,361.04 L47.81,359.32 L49.34,357.61 L50.87,355.92 L52.40,354.23 L53.93,352.56 L55.45,350.90 L56.98,349.25 L58.51,347.61 L60.04,345.99 L61.57,344.38 L63.09,342.77 L64.62,341.18 L66.15,339.61 L67.68,338.04 L69.21,336.48 L70.74,334.94 L72.26,333.40 L73.79,331.88 L75.32,330.37 L76.85,328.87 L78.38,327.38 L79.90,325.90 L81.43,324.43 L82.96,322.97 L84.49,321.52 L86.02,320.08 L87.55,318.65 L89.07,317.23 L90.60,315.82 L92.13,314.42 L93.66,313.03 L95.19,311.65 L96.72,310.28 L98.24,308.92 L99.77,307.57 L101.30,306.23 L102.83,304.89 L104.36,303.57 L105.88,302.25 L107.41,300.95 L108.94,299.65 L110.47,298.36 L112.00,297.08 L113.53,295.81 L115.05,294.55 L116.58,293.30 L118.11,292.05 L119.64,290.82 L121.17,289.59 L122.69,288.37 L124.22,287.16 L125.75,285.95 L127.28,284.76 L128.81,283.57 L130.34,282.39 L131.86,281.22 L133.39,280.06 L134.92,278.90 L136.45,277.75 L137.98,276.61 L139.50,275.48 L141.03,274.35 L142.56,273.23 L144.09,272.12 L145.62,271.02 L147.15,269.92 L148.67,268.83 L150.20,267.75 L151.73,266.68 L153.26,265.61 L154.79,264.55 L156.31,263.50 L157.84,262.45 L159.37,261.41 L160.90,260.38 L162.43,259.35 L163.96,258.33 L165.48,257.32 L167.01,256.31 L168.54,255.31 L170.07,254.32 L171.60,253.33 L173.12,252.35 L174.65,251.37 L176.18,250.41 L177.71,249.44 L179.24,248.49 L180.77,247.54 L182.29,246.60 L183.82,245.66 L185.35,244.73 L186.88,243.80 L188.41,242.88 L189.93,241.97 L191.46,241.06 L192.99,240.16 L194.52,239.26 L196.05,238.37 L197.58,237.49 L199.10,236.61 L200.63,235.73 L202.16,234.86 L203.69,234.00 L205.22,233.14 L206.75,232.29 L208.27,231.44 L209.80,230.60 L211.33,229.77 L212.86,228.94 L214.39,228.11 L215.91,227.29 L217.44,226.48 L218.97,225.66 L220.50,224.86 L222.03,224.06 L223.56,223.26 L225.08,222.47 L226.61,221.69 L228.14,220.91 L229.67,220.13 L231.20,219.36 L232.72,218.60 L234.25,217.83 L235.78,217.08 L237.31,216.33 L238.84,215.58 L240.37,214.84 L241.89,214.10 L243.42,213.37 L244.95,212.64 L246.48,211.91 L248.01,211.19 L249.53,210.48 L251.06,209.76 L252.59,209.06 L254.12,208.36 L255.65,207.66 L257.18,206.96 L258.70,206.27 L260.23,205.59 L261.76,204.91 L263.29,204.23 L264.82,203.56 L266.34,202.89 L267.87,202.22 L269.40,201.56 L270.93,200.90 L272.46,200.25 L273.99,199.60 L275.51,198.96 L277.04,198.32 L278.57,197.68 L280.10,197.05 L281.63,196.42 L283.15,195.79 L284.68,195.17 L286.21,194.55 L287.74,193.94 L289.27,193.33 L290.80,192.72 L292.32,192.11 L293.85,191.52 L295.38,190.92 L296.91,190.33 L298.44,189.74 L299.96,189.15 L301.49,188.57 L303.02,187.99 L304.55,187.42 L306.08,186.84 L307.61,186.28 L309.13,185.71 L310.66,185.15 L312.19,184.59 L313.72,184.04 L315.25,183.48 L316.78,182.94 L318.30,182.39 L319.83,181.85 L321.36,181.31 L322.89,180.78 L324.42,180.24 L325.94,179.71 L327.47,179.19 L329.00,178.67 L330.53,178.15 L332.06,177.63 L333.59,177.12 L335.11,176.61 L336.64,176.10 L338.17,175.59 L339.70,175.09 L341.23,174.59 L342.75,174.10 L344.28,173.61 L345.81,173.12 L347.34,172.63 L348.87,172.15 L350.40,171.66 L351.92,171.19 L353.45,170.71 L354.98,170.24 L356.51,169.77 L358.04,169.30 L359.56,168.84 L361.09,168.38 L362.62,167.92 L364.15,167.46 L365.68,167.01 L367.21,166.56 L368.73,166.11 L370.26,165.66 L371.79,165.22 L373.32,164.78 L374.85,164.34 L376.37,163.91 L377.90,163.47 L379.43,163.04 L380.96,162.62 L382.49,162.19 L384.02,161.77 L385.54,161.35 L387.07,160.93 L388.60,160.51 L390.13,160.10 L391.66,159.69 L393.18,159.28 L394.71,158.88 L396.24,158.47 L397.77,158.07 L399.30,157.67 L400.83,157.28 L402.35,156.88 L403.88,156.49 L405.41,156.10 L406.94,155.72 L408.47,155.33 L409.99,154.95 L411.52,154.57 L413.05,154.19 L414.58,153.82 L416.11,153.44 L417.64,153.07 L419.16,152.70 L420.69,152.33 L422.22,151.97 L423.75,151.61 L425.28,151.24 L426.81,150.89 L428.33,150.53 L429.86,150.17 L431.39,149.82 L432.92,149.47 L434.45,149.12 L435.97,148.78 L437.50,148.43" stroke="#0f0" stroke-width="1.7" stroke-dasharray="9.45 5.3" stroke-dashoffset="8.52"/>
<path d="M41.70,412.69 L43.23,410.93 L44.76,409.18 L46.28,407.44 L47.81,405.72 L49.34,404.01 L50.87,402.32 L52.40,400.63 L53.93,398.96 L55.45,397.30 L56.98,395.65 L58.51,394.01 L60.04,392.39 L61.57,390.78 L63.09,389.17 L64.62,387.58 L66.15,386.01 L67.68,384.44 L69.21,382.88 L70.74,381.34 L72.26,379.80 L73.79,378.28 L75.32,376.77 L76.85,375.27 L78.38,373.78 L79.90,372.30 L81.43,370.83 L82.96,369.37 L84.49,367.92 L86.02,366.48 L87.55,365.05 L89.07,363.63 L90.60,362.22 L92.13,360.82 L93.66,359.43 L95.19,358.05 L96.72,356.68 L98.24,355.32 L99.77,353.97 L101.30,352.63 L102.83,351.29 L104.36,349.97 L105.88,348.65 L107.41,347.35 L108.94,346.05 L110.47,344.76 L112.00,343.48 L113.53,342.21 L115.05,340.95 L116.58,339.70 L118.11,338.45 L119.64,337.22 L121.17,335.99 L122.69,334.77 L124.22,333.56 L125.75,332.35 L127.28,331.16 L128.81,329.97 L130.34,328.79 L131.86,327.62 L133.39,326.46 L134.92,325.30 L136.45,324.15 L137.98,323.01 L139.50,321.88 L141.03,320.75 L142.56,319.63 L144.09,318.52 L145.62,317.42 L147.15,316.32 L148.67,315.23 L150.20,314.15 L151.73,313.08 L153.26,312.01 L154.79,310.95 L156.31,309.90 L157.84,308.85 L159.37,307.81 L160.90,306.78 L162.43,305.75 L163.96,304.73 L165.48,303.72 L167.01,302.71 L168.54,301.71 L170.07,300.72 L171.60,299.73 L173.12,298.75 L174.65,297.77 L176.18,296.81 L177.71,295.84 L179.24,294.89 L180.77,293.94 L182.29,293.00 L183.82,292.06 L185.35,291.13 L186.88,290.20 L188.41,289.28 L189.93,288.37 L191.46,287.46 L192.99,286.56 L194.52,285.66 L196.05,284.77 L197.58,283.89 L199.10,283.01 L200.63,282.13 L202.16,281.26 L203.69,280.40 L205.22,279.54 L206.75,278.69 L208.27,277.84 L209.80,277.00 L211.33,276.17 L212.86,275.34 L214.39,274.51 L215.91,273.69 L217.44,272.88 L218.97,272.06 L220.50,271.26 L222.03,270.46 L223.56,269.66 L225.08,268.87 L226.61,268.09 L228.14,267.31 L229.67,266.53 L231.20,265.76 L232.72,265.00 L234.25,264.23 L235.78,263.48 L237.31,262.73 L238.84,261.98 L240.37,261.24 L241.89,260.50 L243.42,259.77 L244.95,259.04 L246.48,258.31 L248.01,257.59 L249.53,256.88 L251.06,256.16 L252.59,255.46 L254.12,254.76 L255.65,254.06 L257.18,253.36 L258.70,252.67 L260.23,251.99 L261.76,251.31 L263.29,250.63 L264.82,249.96 L266.34,249.29 L267.87,248.62 L269.40,247.96 L270.93,247.30 L272.46,246.65 L273.99,246.00 L275.51,245.36 L277.04,244.72 L278.57,244.08 L280.10,243.45 L281.63,242.82 L283.15,242.19 L284.68,241.57 L286.21,240.95 L287.74,240.34 L289.27,239.73 L290.80,239.12 L292.32,238.51 L293.85,237.92 L295.38,237.32 L296.91,236.73 L298.44,236.14 L299.96,235.55 L301.49,234.97 L303.02,234.39 L304.55,233.82 L306.08,233.24 L307.61,232.68 L309.13,232.11 L310.66,231.55 L312.19,230.99 L313.72,230.44 L315.25,229.88 L316.78,229.34 L318.30,228.79 L319.83,228.25 L321.36,227.71 L322.89,227.18 L324.42,226.64 L325.94,226.11 L327.47,225.59 L329.00,225.07 L330.53,224.55 L332.06,224.03 L333.59,223.52 L335.11,223.01 L336.64,222.50 L338.17,221.99 L339.70,221.49 L341.23,220.99 L342.75,220.50 L344.28,220.01 L345.81,219.52 L347.34,219.03 L348.87,218.55 L350.40,218.06 L351.92,217.59 L353.45,217.11 L354.98,216.64 L356.51,216.17 L358.04,215.70 L359.56,215.24 L361.09,214.78 L362.62,214.32 L364.15,213.86 L365.68,213.41 L367.21,212.96 L368.73,212.51 L370.26,212.06 L371.79,211.62 L373.32,211.18 L374.85,210.74 L376.37,210.31 L377.90,209.87 L379.43,209.44 L380.96,209.02 L382.49,208.59 L384.02,208.17 L385.54,207.75 L387.07,207.33 L388.60,206.91 L390.13,206.50 L391.66,206.09 L393.18,205.68 L394.71,205.28 L396.24,204.87 L397.77,204.47 L399.30,204.07 L400.83,203.68 L402.35,203.28 L403.88,202.89 L405.41,202.50 L406.94,202.12 L408.47,201.73 L409.99,201.35 L411.52,200.97 L413.05,200.59 L414.58,200.22 L416.11,199.84 L417.64,199.47 L419.16,199.10 L420.69,198.73 L422.22,198.37 L423.75,198.01 L425.28,197.64 L426.81,197.29 L428.33,196.93 L429.86,196.57 L431.39,196.22 L432.92,195.87 L434.45,195.52 L435.97,195.18 L437.50,194.83" stroke="#0f0" stroke-width="1.7" stroke-dasharray="9.45 5.3" stroke-dashoffset="2.95"/>
<path d="M41.70,379.75 L43.23,378.54 L44.76,377.34 L46.28,376.14 L47.81,374.96 L49.34,373.78 L50.87,372.62 L52.40,371.46 L53.93,370.32 L55.45,369.18 L56.98,368.05 L58.51,366.93 L60.04,365.82 L61.57,364.72 L63.09,363.62 L64.62,362.54 L66.15,361.46 L67.68,360.39 L69.21,359.33 L70.74,358.28 L72.26,357.24 L73.79,356.21 L75.32,355.18 L76.85,354.16 L78.38,353.15 L79.90,352.15 L81.43,351.15 L82.96,350.17 L84.49,349.19 L86.02,348.21 L87.55,347.25 L89.07,346.29 L90.60,345.34 L92.13,344.40 L93.66,343.47 L95.19,342.54 L96.72,341.62 L98.24,340.70 L99.77,339.80 L101.30,338.90 L102.83,338.01 L104.36,337.12 L105.88,336.24 L107.41,335.37 L108.94,334.50 L110.47,333.64 L112.00,332.79 L113.53,331.94 L115.05,331.11 L116.58,330.27 L118.11,329.45 L119.64,328.62 L121.17,327.81 L122.69,327.00 L124.22,326.20 L125.75,325.40 L127.28,324.61 L128.81,323.83 L130.34,323.05 L131.86,322.28 L133.39,321.51 L134.92,320.75 L136.45,320.00 L137.98,319.25 L139.50,318.50 L141.03,317.77 L142.56,317.03 L144.09,316.31 L145.62,315.58 L147.15,314.87 L148.67,314.16 L150.20,313.45 L151.73,312.75 L153.26,312.05 L154.79,311.36 L156.31,310.68 L157.84,310.00 L159.37,309.33 L160.90,308.66 L162.43,307.99 L163.96,307.33 L165.48,306.68 L167.01,306.03 L168.54,305.38 L170.07,304.74 L171.60,304.10 L173.12,303.47 L174.65,302.85 L176.18,302.22 L177.71,301.61 L179.24,300.99 L180.77,300.39 L182.29,299.78 L183.82,299.18 L185.35,298.59 L186.88,298.00 L188.41,297.41 L189.93,296.83 L191.46,296.25 L192.99,295.68 L194.52,295.11 L196.05,294.55 L197.58,293.98 L199.10,293.43 L200.63,292.88 L202.16,292.33 L203.69,291.78 L205.22,291.24 L206.75,290.70 L208.27,290.17 L209.80,289.64 L211.33,289.12 L212.86,288.60 L214.39,288.08 L215.91,287.57 L217.44,287.06 L218.97,286.55 L220.50,286.05 L222.03,285.55 L223.56,285.05 L225.08,284.56 L226.61,284.08 L228.14,283.59 L229.67,283.11 L231.20,282.63 L232.72,282.16 L234.25,281.69 L235.78,281.22 L237.31,280.76 L238.84,280.30 L240.37,279.84 L241.89,279.39 L243.42,278.94 L244.95,278.49 L246.48,278.05 L248.01,277.61 L249.53,277.17 L251.06,276.74 L252.59,276.31 L254.12,275.88 L255.65,275.45 L257.18,275.03 L258.70,274.61 L260.23,274.20 L261.76,273.79 L263.29,273.38 L264.82,272.97 L266.34,272.57 L267.87,272.17 L269.40,271.77 L270.93,271.38 L272.46,270.98 L273.99,270.59 L275.51,270.21 L277.04,269.83 L278.57,269.45 L280.10,269.07 L281.63,268.69 L283.15,268.32 L284.68,267.95 L286.21,267.58 L287.74,267.22 L289.27,266.86 L290.80,266.50 L292.32,266.14 L293.85,265.79 L295.38,265.44 L296.91,265.09 L298.44,264.75 L299.96,264.40 L301.49,264.06 L303.02,263.72 L304.55,263.39 L306.08,263.06 L307.61,262.72 L309.13,262.40 L310.66,262.07 L312.19,261.75 L313.72,261.43 L315.25,261.11 L316.78,260.79 L318.30,260.48 L319.83,260.16 L321.36,259.85 L322.89,259.55 L324.42,259.24 L325.94,258.94 L327.47,258.64 L329.00,258.34 L330.53,258.04 L332.06,257.75 L333.59,257.46 L335.11,257.17 L336.64,256.88 L338.17,256.60 L339.70,256.31 L341.23,256.03 L342.75,255.75 L344.28,255.48 L345.81,255.20 L347.34,254.93 L348.87,254.66 L350.40,254.39 L351.92,254.12 L353.45,253.86 L354.98,253.60 L356.51,253.34 L358.04,253.08 L359.56,252.82 L361.09,252.57 L362.62,252.31 L364.15,252.06 L365.68,251.81 L367.21,251.57 L368.73,251.32 L370.26,251.08 L371.79,250.84 L373.32,250.60 L374.85,250.36 L376.37,250.12 L377.90,249.89 L379.43,249.66 L380.96,249.43 L382.49,249.20 L384.02,248.97 L385.54,248.74 L387.07,248.52 L388.60,248.30 L390.13,248.08 L391.66,247.86 L393.18,247.64 L394.71,247.43 L396.24,247.21 L397.77,247.00 L399.30,246.79 L400.83,246.58 L402.35,246.38 L403.88,246.17 L405.41,245.97 L406.94,245.76 L408.47,245.56 L409.99,245.36 L411.52,245.17 L413.05,244.97 L414.58,244.78 L416.11,244.58 L417.64,244.39 L419.16,244.20 L420.69,244.01 L422.22,243.83 L423.75,243.64 L425.28,243.46 L426.81,243.28 L428.33,243.09 L429.86,242.92 L431.39,242.74 L432.92,242.56 L434.45,242.39 L435.97,242.21 L437.50,242.04" stroke="#00f" stroke-width="1.8" stroke-dasharray="9.45 5.3" stroke-dashoffset="4.22"/>
</g>
<line x1="53.99" x2="53.99" y1="-0.15" y2="230.50" stroke="#6e6e6e" stroke-width="1.3" stroke-dasharray="1.7 2.36"/>
<line x1="127.74" x2="127.74" y1="-0.15" y2="230.50" stroke="#6e6e6e" stroke-width="1.3" stroke-dasharray="1.7 2.36"/>
<line x1="53.99" x2="53.99" y1="229.40" y2="460.00" stroke="#6e6e6e" stroke-width="1.3" stroke-dasharray="1.7 2.36"/>
<line x1="127.74" x2="127.74" y1="229.40" y2="460.00" stroke="#6e6e6e" stroke-width="1.3" stroke-dasharray="1.7 2.36"/>
<text x="123.8" y="478.2" font-size="13.0" fill="#000" stroke="#000" stroke-width="0.6" text-anchor="start" font-family="'Liberation Sans', serif" font-weight="normal" textLength="7.8" lengthAdjust="spacingAndGlyphs" >5</text>
<text x="246.8" y="478.2" font-size="13.0" fill="#000" stroke="#000" stroke-width="0.6" text-anchor="start" font-family="'Liberation Sans', serif" font-weight="normal" textLength="7.8" lengthAdjust="spacingAndGlyphs" >6</text>
<text x="369.7" y="478.2" font-size="13.0" fill="#000" stroke="#000" stroke-width="0.6" text-anchor="start" font-family="'Liberation Sans', serif" font-weight="normal" textLength="7.8" lengthAdjust="spacingAndGlyphs" >7</text>
<text x="27.8" y="51.25" font-size="13.0" fill="#000" stroke="#000" stroke-width="0.6" text-anchor="start" font-family="'Liberation Sans', serif" font-weight="normal" textLength="6.2" lengthAdjust="spacingAndGlyphs" >1</text>
<text x="15.3" y="130.18006486309588" font-size="13.0" fill="#000" stroke="#000" stroke-width="0.6" text-anchor="start" font-family="'Liberation Sans', serif" font-weight="normal" textLength="19.8" lengthAdjust="spacingAndGlyphs" >0.5</text>
<text x="27.8" y="280.65000000000003" font-size="13.0" fill="#000" stroke="#000" stroke-width="0.6" text-anchor="start" font-family="'Liberation Sans', serif" font-weight="normal" textLength="6.2" lengthAdjust="spacingAndGlyphs" >1</text>
<text x="15.3" y="359.5800648630959" font-size="13.0" fill="#000" stroke="#000" stroke-width="0.6" text-anchor="start" font-family="'Liberation Sans', serif" font-weight="normal" textLength="19.8" lengthAdjust="spacingAndGlyphs" >0.5</text>
<text x="71.8" y="22" font-size="16.3" fill="#000" stroke="#000" stroke-width="0.7" text-anchor="start" font-family="'Liberation Serif', serif" font-weight="bold" textLength="13.2" lengthAdjust="spacingAndGlyphs" >a)</text>
<text x="71.8" y="250.9" font-size="14.8" fill="#000" stroke="#000" stroke-width="0.7" text-anchor="start" font-family="'Liberation Serif', serif" font-weight="bold" textLength="7.8" lengthAdjust="spacingAndGlyphs" >b</text>
<text x="80.2" y="250.9" font-size="16.3" fill="#000" stroke="#000" stroke-width="0.7" text-anchor="start" font-family="'Liberation Serif', serif" font-weight="bold" textLength="4.8" lengthAdjust="spacingAndGlyphs" >)</text>
<text x="250.7" y="109.9" font-size="13.9" fill="#000" stroke="#000" stroke-width="0.7" text-anchor="start" font-family="'Liberation Serif', serif" font-weight="bold" textLength="17.2" lengthAdjust="spacingAndGlyphs" >BB</text>
<text x="274.8" y="109.9" font-size="10.0" fill="#000" stroke="#000" stroke-width="1.1" text-anchor="start" font-family="'Liberation Sans', serif" font-weight="bold" textLength="9.6" lengthAdjust="spacingAndGlyphs" dy="-2.0">@</text>
<text x="291.9" y="109.9" font-size="13.0" fill="#000" stroke="#000" stroke-width="0.85" text-anchor="start" font-family="'Liberation Sans', serif" font-weight="normal" textLength="22.0" lengthAdjust="spacingAndGlyphs" >550</text>
<text x="320.7" y="109.9" font-size="13.9" fill="#000" stroke="#000" stroke-width="0.7" text-anchor="start" font-family="'Liberation Serif', serif" font-weight="bold" textLength="9.6" lengthAdjust="spacingAndGlyphs" >K</text>
<text x="250.7" y="130.6" font-size="13.9" fill="#f00" stroke="#f00" stroke-width="0.7" text-anchor="start" font-family="'Liberation Serif', serif" font-weight="bold" textLength="17.2" lengthAdjust="spacingAndGlyphs" >BB</text>
<text x="274.8" y="130.6" font-size="10.0" fill="#f00" stroke="#f00" stroke-width="1.1" text-anchor="start" font-family="'Liberation Sans', serif" font-weight="bold" textLength="9.6" lengthAdjust="spacingAndGlyphs" dy="-2.0">@</text>
<text x="291.9" y="130.6" font-size="13.0" fill="#f00" stroke="#f00" stroke-width="0.85" text-anchor="start" font-family="'Liberation Sans', serif" font-weight="normal" textLength="22.0" lengthAdjust="spacingAndGlyphs" >550</text>
<text x="320.7" y="130.6" font-size="13.9" fill="#f00" stroke="#f00" stroke-width="0.7" text-anchor="start" font-family="'Liberation Serif', serif" font-weight="bold" textLength="9.6" lengthAdjust="spacingAndGlyphs" >K</text>
<text x="336.8" y="130.6" font-size="13.9" fill="#f00" stroke="#f00" stroke-width="0.7" text-anchor="start" font-family="'Liberation Serif', serif" font-weight="bold" textLength="26.5" lengthAdjust="spacingAndGlyphs" >with</text>
<text x="370.1" y="130.6" font-size="13.9" fill="#f00" stroke="#f00" stroke-width="0.7" text-anchor="start" font-family="'Liberation Serif', serif" font-weight="bold" textLength="7.3" lengthAdjust="spacingAndGlyphs" font-style="italic">τ</text>
<text x="378.0" y="133.8" font-size="8.6" fill="#f00" stroke="#f00" stroke-width="0.1" text-anchor="start" font-family="'Liberation Sans', serif" font-weight="bold" textLength="5.0" lengthAdjust="spacingAndGlyphs" >6</text>
<text x="383.2" y="133.8" font-size="9" fill="#f00" stroke="#f00" stroke-width="0.25" text-anchor="start" font-family="'Liberation Serif', serif" font-weight="bold" textLength="5.6" lengthAdjust="spacingAndGlyphs" font-style="italic">μ</text>
<text x="389.2" y="133.8" font-size="9" fill="#f00" stroke="#f00" stroke-width="0.25" text-anchor="start" font-family="'Liberation Serif', serif" font-weight="bold" textLength="10.4" lengthAdjust="spacingAndGlyphs" >m</text>
<text x="400.5" y="130.6" font-size="13.9" fill="#f00" stroke="#f00" stroke-width="0.7" text-anchor="start" font-family="'Liberation Serif', serif" font-weight="bold" textLength="8" lengthAdjust="spacingAndGlyphs" >=</text>
<text x="409.0" y="130.6" font-size="13.0" fill="#f00" stroke="#f00" stroke-width="0.85" text-anchor="start" font-family="'Liberation Sans', serif" font-weight="normal" textLength="19.7" lengthAdjust="spacingAndGlyphs" >2.5</text>
<text x="250.7" y="151.3" font-size="13.9" fill="#0f0" stroke="#0f0" stroke-width="0.7" text-anchor="start" font-family="'Liberation Serif', serif" font-weight="bold" textLength="17.2" lengthAdjust="spacingAndGlyphs" >BB</text>
<text x="274.8" y="151.3" font-size="10.0" fill="#0f0" stroke="#0f0" stroke-width="1.1" text-anchor="start" font-family="'Liberation Sans', serif" font-weight="bold" textLength="9.6" lengthAdjust="spacingAndGlyphs" dy="-2.0">@</text>
<text x="291.9" y="151.3" font-size="13.0" fill="#0f0" stroke="#0f0" stroke-width="0.85" text-anchor="start" font-family="'Liberation Sans', serif" font-weight="normal" textLength="22.0" lengthAdjust="spacingAndGlyphs" >400</text>
<text x="320.7" y="151.3" font-size="13.9" fill="#0f0" stroke="#0f0" stroke-width="0.7" text-anchor="start" font-family="'Liberation Serif', serif" font-weight="bold" textLength="9.6" lengthAdjust="spacingAndGlyphs" >K</text>
<text x="250.7" y="172.0" font-size="13.9" fill="#00f" stroke="#00f" stroke-width="0.7" text-anchor="start" font-family="'Liberation Serif', serif" font-weight="bold" textLength="17.2" lengthAdjust="spacingAndGlyphs" >BB</text>
<text x="274.8" y="172.0" font-size="10.0" fill="#00f" stroke="#00f" stroke-width="1.1" text-anchor="start" font-family="'Liberation Sans', serif" font-weight="bold" textLength="9.6" lengthAdjust="spacingAndGlyphs" dy="-2.0">@</text>
<text x="291.9" y="172.0" font-size="13.0" fill="#00f" stroke="#00f" stroke-width="0.85" text-anchor="start" font-family="'Liberation Sans', serif" font-weight="normal" textLength="22.0" lengthAdjust="spacingAndGlyphs" >480</text>
<text x="320.7" y="172.0" font-size="13.9" fill="#00f" stroke="#00f" stroke-width="0.7" text-anchor="start" font-family="'Liberation Serif', serif" font-weight="bold" textLength="9.6" lengthAdjust="spacingAndGlyphs" >K</text>
<text x="250.7" y="339.2" font-size="13.9" fill="#000" stroke="#000" stroke-width="0.7" text-anchor="start" font-family="'Liberation Serif', serif" font-weight="bold" textLength="17.2" lengthAdjust="spacingAndGlyphs" >BB</text>
<text x="274.8" y="339.2" font-size="10.0" fill="#000" stroke="#000" stroke-width="1.1" text-anchor="start" font-family="'Liberation Sans', serif" font-weight="bold" textLength="9.6" lengthAdjust="spacingAndGlyphs" dy="-2.0">@</text>
<text x="291.9" y="339.2" font-size="13.0" fill="#000" stroke="#000" stroke-width="0.85" text-anchor="start" font-family="'Liberation Sans', serif" font-weight="normal" textLength="22.0" lengthAdjust="spacingAndGlyphs" >600</text>
<text x="320.7" y="339.2" font-size="13.9" fill="#000" stroke="#000" stroke-width="0.7" text-anchor="start" font-family="'Liberation Serif', serif" font-weight="bold" textLength="9.6" lengthAdjust="spacingAndGlyphs" >K</text>
<text x="250.7" y="359.9" font-size="13.9" fill="#f00" stroke="#f00" stroke-width="0.7" text-anchor="start" font-family="'Liberation Serif', serif" font-weight="bold" textLength="17.2" lengthAdjust="spacingAndGlyphs" >BB</text>
<text x="274.8" y="359.9" font-size="10.0" fill="#f00" stroke="#f00" stroke-width="1.1" text-anchor="start" font-family="'Liberation Sans', serif" font-weight="bold" textLength="9.6" lengthAdjust="spacingAndGlyphs" dy="-2.0">@</text>
<text x="291.9" y="359.9" font-size="13.0" fill="#f00" stroke="#f00" stroke-width="0.85" text-anchor="start" font-family="'Liberation Sans', serif" font-weight="normal" textLength="22.0" lengthAdjust="spacingAndGlyphs" >600</text>
<text x="320.7" y="359.9" font-size="13.9" fill="#f00" stroke="#f00" stroke-width="0.7" text-anchor="start" font-family="'Liberation Serif', serif" font-weight="bold" textLength="9.6" lengthAdjust="spacingAndGlyphs" >K</text>
<text x="336.8" y="359.9" font-size="13.9" fill="#f00" stroke="#f00" stroke-width="0.7" text-anchor="start" font-family="'Liberation Serif', serif" font-weight="bold" textLength="26.5" lengthAdjust="spacingAndGlyphs" >with</text>
<text x="370.1" y="359.9" font-size="13.9" fill="#f00" stroke="#f00" stroke-width="0.7" text-anchor="start" font-family="'Liberation Serif', serif" font-weight="bold" textLength="7.3" lengthAdjust="spacingAndGlyphs" font-style="italic">τ</text>
<text x="378.0" y="363.1" font-size="8.6" fill="#f00" stroke="#f00" stroke-width="0.1" text-anchor="start" font-family="'Liberation Sans', serif" font-weight="bold" textLength="5.0" lengthAdjust="spacingAndGlyphs" >6</text>
<text x="383.2" y="363.1" font-size="9" fill="#f00" stroke="#f00" stroke-width="0.25" text-anchor="start" font-family="'Liberation Serif', serif" font-weight="bold" textLength="5.6" lengthAdjust="spacingAndGlyphs" font-style="italic">μ</text>
<text x="389.2" y="363.1" font-size="9" fill="#f00" stroke="#f00" stroke-width="0.25" text-anchor="start" font-family="'Liberation Serif', serif" font-weight="bold" textLength="10.4" lengthAdjust="spacingAndGlyphs" >m</text>
<text x="400.5" y="359.9" font-size="13.9" fill="#f00" stroke="#f00" stroke-width="0.7" text-anchor="start" font-family="'Liberation Serif', serif" font-weight="bold" textLength="8" lengthAdjust="spacingAndGlyphs" >=</text>
<text x="409.0" y="359.9" font-size="13.0" fill="#f00" stroke="#f00" stroke-width="0.85" text-anchor="start" font-family="'Liberation Sans', serif" font-weight="normal" textLength="7.5" lengthAdjust="spacingAndGlyphs" >3</text>
<text x="250.7" y="380.6" font-size="13.9" fill="#0f0" stroke="#0f0" stroke-width="0.7" text-anchor="start" font-family="'Liberation Serif', serif" font-weight="bold" textLength="17.2" lengthAdjust="spacingAndGlyphs" >BB</text>
<text x="274.8" y="380.6" font-size="10.0" fill="#0f0" stroke="#0f0" stroke-width="1.1" text-anchor="start" font-family="'Liberation Sans', serif" font-weight="bold" textLength="9.6" lengthAdjust="spacingAndGlyphs" dy="-2.0">@</text>
<text x="291.9" y="380.6" font-size="13.0" fill="#0f0" stroke="#0f0" stroke-width="0.85" text-anchor="start" font-family="'Liberation Sans', serif" font-weight="normal" textLength="22.0" lengthAdjust="spacingAndGlyphs" >400</text>
<text x="320.7" y="380.6" font-size="13.9" fill="#0f0" stroke="#0f0" stroke-width="0.7" text-anchor="start" font-family="'Liberation Serif', serif" font-weight="bold" textLength="9.6" lengthAdjust="spacingAndGlyphs" >K</text>
<text x="250.7" y="401.3" font-size="13.9" fill="#00f" stroke="#00f" stroke-width="0.7" text-anchor="start" font-family="'Liberation Serif', serif" font-weight="bold" textLength="17.2" lengthAdjust="spacingAndGlyphs" >BB</text>
<text x="274.8" y="401.3" font-size="10.0" fill="#00f" stroke="#00f" stroke-width="1.1" text-anchor="start" font-family="'Liberation Sans', serif" font-weight="bold" textLength="9.6" lengthAdjust="spacingAndGlyphs" dy="-2.0">@</text>
<text x="291.9" y="401.3" font-size="13.0" fill="#00f" stroke="#00f" stroke-width="0.85" text-anchor="start" font-family="'Liberation Sans', serif" font-weight="normal" textLength="22.0" lengthAdjust="spacingAndGlyphs" >500</text>
<text x="320.7" y="401.3" font-size="13.9" fill="#00f" stroke="#00f" stroke-width="0.7" text-anchor="start" font-family="'Liberation Serif', serif" font-weight="bold" textLength="9.6" lengthAdjust="spacingAndGlyphs" >K</text>
<text x="63.1" y="438.6" font-size="13.9" fill="#000" stroke="#000" stroke-width="0.7" text-anchor="start" font-family="'Liberation Serif', serif" font-weight="bold" textLength="16.1" lengthAdjust="spacingAndGlyphs" >CO</text>
<text x="86.9" y="438.6" font-size="13.9" fill="#000" stroke="#000" stroke-width="0.7" text-anchor="start" font-family="'Liberation Serif', serif" font-weight="bold" textLength="31.3" lengthAdjust="spacingAndGlyphs" >band</text>
<text x="219.5" y="438.6" font-size="13.9" fill="#000" stroke="#000" stroke-width="0.7" text-anchor="start" font-family="'Liberation Serif', serif" font-weight="bold" textLength="9.9" lengthAdjust="spacingAndGlyphs" >H</text>
<text x="229.4" y="441.8" font-size="8.4" fill="#000" stroke="#000" stroke-width="0.15" text-anchor="start" font-family="'Liberation Sans', serif" font-weight="bold" textLength="5.2" lengthAdjust="spacingAndGlyphs" >2</text>
<text x="235.9" y="438.6" font-size="13.9" fill="#000" stroke="#000" stroke-width="0.7" text-anchor="start" font-family="'Liberation Serif', serif" font-weight="bold" textLength="7.7" lengthAdjust="spacingAndGlyphs" >O</text>
<text x="250.6" y="438.6" font-size="13.9" fill="#000" stroke="#000" stroke-width="0.7" text-anchor="start" font-family="'Liberation Serif', serif" font-weight="bold" textLength="30.5" lengthAdjust="spacingAndGlyphs" >band</text>
<text x="215" y="491.2" font-size="14" fill="#000" stroke="#000" stroke-width="0.7" text-anchor="start" font-family="'Liberation Serif', serif" font-weight="bold" textLength="8.5" lengthAdjust="spacingAndGlyphs" >λ</text>
<text x="229.5" y="491.4" font-size="14" fill="#000" stroke="#000" stroke-width="0.7" text-anchor="start" font-family="'Liberation Serif', serif" font-weight="bold" textLength="4.6" lengthAdjust="spacingAndGlyphs" >(</text>
<text x="234.5" y="491.2" font-size="14" fill="#000" stroke="#000" stroke-width="0.7" text-anchor="start" font-family="'Liberation Serif', serif" font-weight="bold" textLength="8.6" lengthAdjust="spacingAndGlyphs" font-style="italic">μ</text>
<text x="243.4" y="491.2" font-size="14" fill="#000" stroke="#000" stroke-width="0.7" text-anchor="start" font-family="'Liberation Serif', serif" font-weight="bold" textLength="12.3" lengthAdjust="spacingAndGlyphs" >m</text>
<text x="256.2" y="491.4" font-size="14" fill="#000" stroke="#000" stroke-width="0.7" text-anchor="start" font-family="'Liberation Serif', serif" font-weight="bold" textLength="4.6" lengthAdjust="spacingAndGlyphs" >)</text>
<g transform="translate(9.3,309.1) rotate(-90)" font-family="'Liberation Serif', serif" font-weight="bold" font-size="13.9" stroke="#000" stroke-width="0.7"><text x="0" y="0" textLength="68.8" lengthAdjust="spacingAndGlyphs">Nomalized</text><text x="75.8" y="0" textLength="24.6" lengthAdjust="spacingAndGlyphs">flux</text><text x="108.5" y="0" textLength="48.1" lengthAdjust="spacingAndGlyphs">density</text></g>
</svg>
</body></html>
